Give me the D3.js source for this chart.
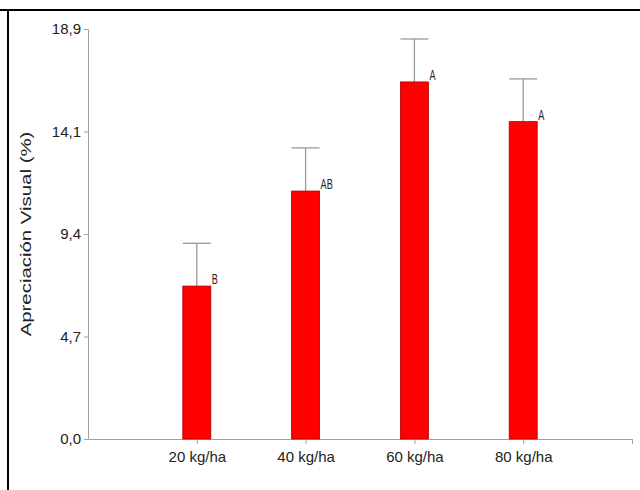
<!DOCTYPE html>
<html>
<head>
<meta charset="utf-8">
<script src="https://cdn.jsdelivr.net/npm/d3@7"></script>
<style>
  body { margin: 0; background: #fff; }
  svg { display: block; }
</style>
</head>
<body>
<div id="chart"></div>
<script>
// chart data
const categories = ["20 kg/ha", "40 kg/ha", "60 kg/ha", "80 kg/ha"];
const means = [7.05, 11.43, 16.46, 14.63];
const errors = [1.97, 1.99, 1.98, 1.97];
const letters = ["B", "AB", "A", "A"];
const yTickValues = [0, 4.725, 9.45, 14.175, 18.9];
const yTickLabels = ["0,0", "4,7", "9,4", "14,1", "18,9"];

const width = 640, height = 490;
const font = "Arial, 'Liberation Sans', sans-serif";

const svg = d3
  .select("#chart")
  .append("svg")
  .attr("width", width)
  .attr("height", height);

// frame lines (top and left border of the original figure)
svg.append("line")
  .attr("x1", 0).attr("x2", width)
  .attr("y1", 10).attr("y2", 10)
  .attr("stroke", "#000").attr("stroke-width", 2);
svg.append("line")
  .attr("x1", 8).attr("x2", 8)
  .attr("y1", 10).attr("y2", height)
  .attr("stroke", "#000").attr("stroke-width", 2);

// scales
const x = d3.scaleLinear().domain([0, categories.length + 1]).range([88, 632]);
const y = d3.scaleLinear().domain([0, 18.9]).range([439, 29]);
const barWidth = 28;

// y axis
const yAxis = d3.axisLeft(y)
  .tickValues(yTickValues)
  .tickFormat((d, i) => yTickLabels[i])
  .tickSize(4)
  .tickPadding(3);

const gy = svg.append("g")
  .attr("transform", `translate(${x(0)},0)`)
  .call(yAxis);
gy.select(".domain").attr("stroke", "#a0a0a0");
gy.selectAll(".tick line").attr("stroke", "#a0a0a0");
gy.selectAll("text")
  .style("font-family", font)
  .style("font-size", "15px")
  .attr("fill", "#222");

// x axis
const xAxis = d3.axisBottom(x)
  .tickValues(d3.range(1, categories.length + 2))
  .tickFormat((d) => categories[d - 1] || "")
  .tickSize(5)
  .tickSizeOuter(0)
  .tickPadding(7);

const gx = svg.append("g")
  .attr("transform", `translate(0,${y(0)})`)
  .call(xAxis);
gx.select(".domain").attr("stroke", "#a0a0a0");
gx.selectAll(".tick line").attr("stroke", "#a0a0a0");
gx.selectAll("text")
  .style("font-family", font)
  .style("font-size", "15px")
  .attr("fill", "#222");

// y axis title (stretched along its length like the original)
svg.append("text")
  .attr("transform", `translate(31,${(y(0) + y(18.9)) / 2}) rotate(-90) scale(1.36,1)`)
  .attr("text-anchor", "middle")
  .style("font-family", font)
  .style("font-size", "15px")
  .attr("fill", "#222")
  .text("Apreciación Visual (%)");

const data = categories.map((c, i) => ({
  cat: c, i: i + 1, mean: means[i], err: errors[i], letter: letters[i]
}));

// error bars
const eb = svg.selectAll(".err").data(data).enter().append("g").attr("class", "err");
eb.append("line")
  .attr("x1", (d) => x(d.i)).attr("x2", (d) => x(d.i))
  .attr("y1", (d) => y(d.mean)).attr("y2", (d) => y(d.mean + d.err))
  .attr("stroke", "#9a9a9a").attr("stroke-width", 1.3);
eb.append("line")
  .attr("x1", (d) => x(d.i) - barWidth / 2).attr("x2", (d) => x(d.i) + barWidth / 2)
  .attr("y1", (d) => y(d.mean + d.err)).attr("y2", (d) => y(d.mean + d.err))
  .attr("stroke", "#9a9a9a").attr("stroke-width", 1.3);

// bars
svg.selectAll(".bar").data(data).enter().append("rect")
  .attr("class", "bar")
  .attr("x", (d) => x(d.i) - barWidth / 2)
  .attr("width", barWidth)
  .attr("y", (d) => y(d.mean))
  .attr("height", (d) => y(0) - y(d.mean))
  .attr("fill", "#ff0000")
  .attr("stroke", "#b00000")
  .attr("stroke-width", 0.8);

// significance letters (narrow, like the original)
svg.selectAll(".letter").data(data).enter().append("text")
  .attr("class", "letter")
  .attr("transform", (d) => `translate(${x(d.i) + barWidth / 2 + 1},${y(d.mean) - 2}) scale(0.65,1)`)
  .style("font-family", font)
  .style("font-size", "14px")
  .attr("fill", "#222")
  .text((d) => d.letter);
</script>
</body>
</html>
